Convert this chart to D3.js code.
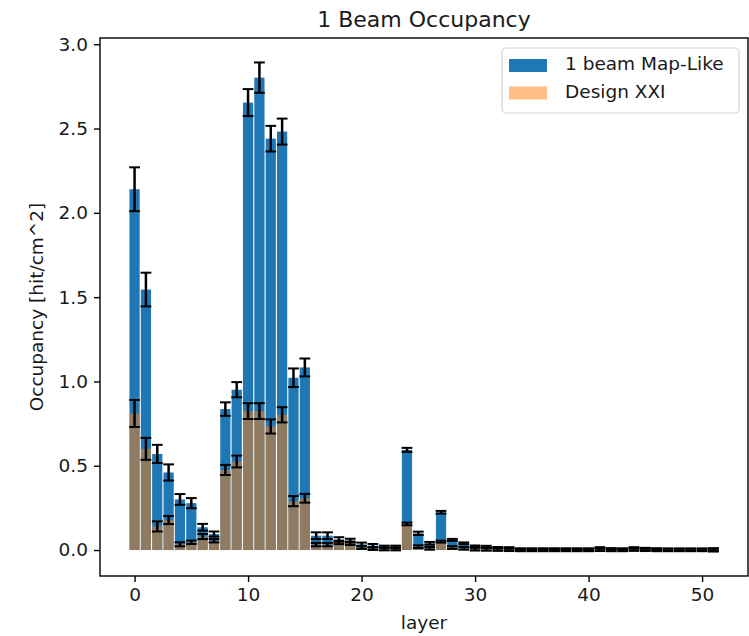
<!DOCTYPE html>
<html>
<head>
<meta charset="utf-8">
<script src="https://cdn.jsdelivr.net/npm/d3@7"></script>
<style>
  body { margin: 0; background: #fff; }
  text { font-family: "DejaVu Sans", sans-serif; fill: #1a1a1a; }
</style>
</head>
<body>
<div id="bar_chart"></div>
<script>
// layer index on x
var layers = [0, 1, 2, 3, 4, 5, 6, 7, 8, 9, 10, 11, 12, 13, 14, 15, 16, 17, 18, 19,
    20, 21, 22, 23, 24, 25, 26, 27, 28, 29, 30, 31, 32, 33, 34, 35, 36, 37, 38, 39,
    40, 41, 42, 43, 44, 45, 46, 47, 48, 49, 50, 51];

// 1 beam Map-Like
var mapLike = [2.14, 1.545, 0.57, 0.46, 0.30, 0.278, 0.135, 0.095, 0.836, 0.951,
    2.654, 2.802, 2.44, 2.482, 1.022, 1.083, 0.085, 0.085, 0.062, 0.055,
    0.034, 0.026, 0.02, 0.02, 0.594, 0.099, 0.04, 0.224, 0.06, 0.04,
    0.022, 0.02, 0.013, 0.012, 0.004, 0.004, 0.004, 0.004, 0.004, 0.004,
    0.004, 0.012, 0.006, 0.004, 0.012, 0.008, 0.005, 0.003, 0.003, 0.003,
    0.003, 0.003];
var mapLikeErr = [0.13, 0.10, 0.054, 0.048, 0.032, 0.03, 0.02, 0.015, 0.04, 0.045,
    0.08, 0.09, 0.076, 0.077, 0.055, 0.053, 0.02, 0.02, 0.014, 0.012,
    0.01, 0.01, 0.006, 0.006, 0.012, 0.01, 0.008, 0.008, 0.006, 0.005,
    0.005, 0.005, 0.005, 0.005, 0.005, 0.005, 0.005, 0.005, 0.005, 0.005,
    0.005, 0.005, 0.005, 0.005, 0.005, 0.005, 0.005, 0.005, 0.005, 0.005,
    0.005, 0.005];

// Design XXI
var designXXI = [0.81, 0.60, 0.14, 0.178, 0.034, 0.046, 0.08, 0.055, 0.475, 0.525,
    0.824, 0.824, 0.733, 0.802, 0.29, 0.307, 0.032, 0.032, 0.045, 0.04,
    0.015, 0.008, 0.006, 0.006, 0.155, 0.02, 0.01, 0.05, 0.015, 0.01,
    0.005, 0.004, 0.003, 0.002, 0.001, 0.001, 0.001, 0.001, 0.001, 0.001,
    0.001, 0.002, 0.001, 0.001, 0.003, 0.002, 0.001, 0.001, 0.001, 0.001,
    0.001, 0.001];
var designXXIErr = [0.08, 0.065, 0.03, 0.024, 0.012, 0.01, 0.015, 0.01, 0.03, 0.035,
    0.047, 0.047, 0.042, 0.045, 0.03, 0.026, 0.01, 0.01, 0.01, 0.01,
    0.008, 0.008, 0.008, 0.008, 0.008, 0.008, 0.008, 0.006, 0.008, 0.008,
    0.008, 0.008, 0.008, 0.008, 0.008, 0.008, 0.008, 0.008, 0.008, 0.008,
    0.008, 0.008, 0.008, 0.008, 0.008, 0.008, 0.008, 0.008, 0.008, 0.008,
    0.008, 0.010];

var xTicks = [0, 10, 20, 30, 40, 50];
var yTicks = [0.0, 0.5, 1.0, 1.5, 2.0, 2.5, 3.0];

var seriesNames = ["1 beam Map-Like", "Design XXI"];
var seriesColors = ["#1f77b4", "#ff7f0e"];
var seriesAlpha = [1, 0.5];

var margin = { top: 38, right: 1, bottom: 60, left: 100 },
    W = 749, H = 636,
    width = W - margin.left - margin.right,
    height = H - margin.top - margin.bottom;

var fs = 18.5;          // "medium" font
var barWidth = 0.9;

var svg = d3.select("#bar_chart")
    .append("svg")
    .attr("width", W)
    .attr("height", H);

var g = svg.append("g")
    .attr("transform", "translate(" + margin.left + "," + margin.top + ")");

// matplotlib-ish autoscale with 5% margins
var xlo = d3.min(layers) - barWidth / 2, xhi = d3.max(layers) + barWidth / 2;
var xpad = 0.05 * (xhi - xlo);
var x = d3.scaleLinear()
    .domain([xlo - xpad, xhi + xpad])
    .range([0, width]);

var series = [
    { vals: mapLike, errs: mapLikeErr },
    { vals: designXXI, errs: designXXIErr }
];
var ylo = d3.min(series, s => d3.min(s.vals, (v, i) => Math.min(0, v - s.errs[i])));
var yhi = d3.max(series, s => d3.max(s.vals, (v, i) => v + s.errs[i]));
var ypad = 0.05 * (yhi - ylo);
var y = d3.scaleLinear()
    .domain([ylo - ypad, yhi + ypad])
    .range([height, 0]);

var pxPerUnit = x(1) - x(0);
var capHalf = 5.4;

series.forEach(function (s, k) {
    var rows = layers.map((l, i) => ({ layer: l, v: s.vals[i], e: s.errs[i] }));

    g.append("g")
        .selectAll("rect")
        .data(rows)
        .join("rect")
        .attr("x", d => x(d.layer - barWidth / 2))
        .attr("width", barWidth * pxPerUnit)
        .attr("y", d => y(d.v))
        .attr("height", d => y(0) - y(d.v))
        .attr("fill", seriesColors[k])
        .attr("fill-opacity", seriesAlpha[k]);

    var eb = g.append("g")
        .attr("stroke", "#000")
        .selectAll("g")
        .data(rows)
        .join("g");
    eb.append("line")
        .attr("stroke-width", 2.5)
        .attr("x1", d => x(d.layer)).attr("x2", d => x(d.layer))
        .attr("y1", d => y(d.v - d.e)).attr("y2", d => y(d.v + d.e));
    eb.append("line")
        .attr("stroke-width", 2)
        .attr("x1", d => x(d.layer) - capHalf).attr("x2", d => x(d.layer) + capHalf)
        .attr("y1", d => y(d.v - d.e)).attr("y2", d => y(d.v - d.e));
    eb.append("line")
        .attr("stroke-width", 2)
        .attr("x1", d => x(d.layer) - capHalf).attr("x2", d => x(d.layer) + capHalf)
        .attr("y1", d => y(d.v + d.e)).attr("y2", d => y(d.v + d.e));
});

// axes
var xAxis = g.append("g")
    .attr("transform", "translate(0," + height + ")")
    .call(d3.axisBottom(x).tickValues(xTicks).tickSize(6).tickPadding(6).tickFormat(d3.format("d")));
var yAxis = g.append("g")
    .call(d3.axisLeft(y).tickValues(yTicks).tickSize(6).tickPadding(6).tickFormat(d3.format(".1f")));
[xAxis, yAxis].forEach(function (a) {
    a.select(".domain").remove();
    a.selectAll(".tick line").attr("stroke", "#000").attr("stroke-width", 1.4);
    a.selectAll(".tick text").attr("font-size", fs).attr("font-family", "DejaVu Sans").attr("fill", "#1a1a1a");
});

// frame
g.append("rect")
    .attr("width", width).attr("height", height)
    .attr("fill", "none").attr("stroke", "#000").attr("stroke-width", 1.4);

// title and labels
svg.append("text")
    .attr("x", margin.left + width / 2).attr("y", 27)
    .attr("text-anchor", "middle").attr("font-size", 22)
    .text("1 Beam Occupancy");
svg.append("text")
    .attr("x", margin.left + width / 2).attr("y", 629)
    .attr("text-anchor", "middle").attr("font-size", fs)
    .text("layer");
svg.append("text")
    .attr("transform", "translate(43," + (margin.top + height / 2) + ") rotate(-90)")
    .attr("text-anchor", "middle").attr("font-size", fs)
    .text("Occupancy [hit/cm^2]");

// legend
var leg = svg.append("g").attr("transform", "translate(502,48)");
leg.append("rect")
    .attr("width", 237).attr("height", 65).attr("rx", 4)
    .attr("fill", "#fff").attr("fill-opacity", 0.8)
    .attr("stroke", "#d6d6d6").attr("stroke-width", 1.2);
seriesNames.forEach(function (name, k) {
    leg.append("rect")
        .attr("x", 7).attr("y", 11 + k * 27.5).attr("width", 38).attr("height", 13)
        .attr("fill", seriesColors[k]).attr("fill-opacity", seriesAlpha[k]);
    leg.append("text")
        .attr("x", 63).attr("y", 22 + k * 27.5)
        .attr("font-size", fs)
        .text(name);
});
</script>
</body>
</html>
